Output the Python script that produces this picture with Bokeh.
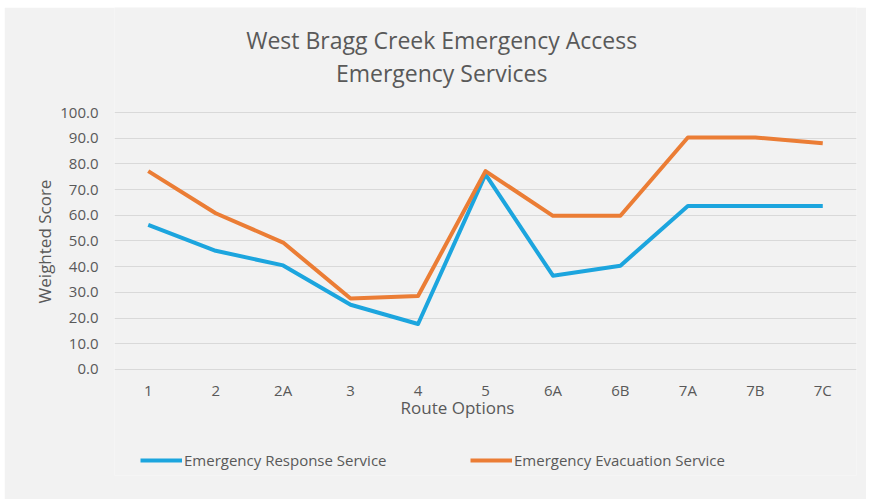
from bokeh.plotting import figure
from bokeh.models import (ColumnDataSource, FactorRange, Range1d, Label, Legend, LegendItem,
                          NumeralTickFormatter, FixedTicker)
from bokeh.embed import file_html
from bokeh.resources import INLINE

routes = ["1", "2", "2A", "3", "4", "5", "6A", "6B", "7A", "7B", "7C"]
response = [56.3, 46.2, 40.5, 25.2, 17.7, 75.9, 36.5, 40.4, 63.6, 63.6, 63.6]
evacuation = [77.2, 60.8, 49.4, 27.6, 28.6, 77.2, 59.8, 59.8, 90.3, 90.3, 88.0]
y_ticks = [0, 10, 20, 30, 40, 50, 60, 70, 80, 90, 100]
title_lines = ["West Bragg Creek Emergency Access", "Emergency Services"]
x_title = "Route Options"
y_title = "Weighted Score"
series_names = ["Emergency Response Service", "Emergency Evacuation Service"]

FONT = "Open Sans"
TXT = "#595959"
BG = "#f2f2f2"
BLUE = "#1CA5DE"
ORANGE = "#EB7D35"

src = ColumnDataSource(dict(route=routes, resp=response, evac=evacuation))

# tall frame (holds titles and legend too); y range chosen so 0..100 sits where the reference has it
p = figure(width=862, height=492, margin=(7, 3, 0, 4),
           x_range=FactorRange(*routes, range_padding=0),
           y_range=Range1d(-41.25, 140.86), output_backend="svg", toolbar_location=None,
           min_border_left=110, min_border_right=10, min_border_top=0, min_border_bottom=24)
p.background_fill_color = BG
p.border_fill_color = BG
p.outline_line_color = None

r1 = p.line("route", "resp", source=src, line_color=BLUE, line_width=4, line_join="round")
r2 = p.line("route", "evac", source=src, line_color=ORANGE, line_width=4, line_join="round")

ticker = FixedTicker(ticks=y_ticks)
p.xgrid.grid_line_color = None
p.ygrid.ticker = ticker
p.ygrid.grid_line_color = "#d9d9d9"
p.ygrid.grid_line_width = 1

p.yaxis.ticker = ticker
p.yaxis.formatter = NumeralTickFormatter(format="0.0")
p.xaxis.fixed_location = 0
for ax in (p.xaxis[0], p.yaxis[0]):
    ax.axis_line_color = None
    ax.major_tick_line_color = None
    ax.minor_tick_line_color = None
    ax.major_tick_out = 0
    ax.major_tick_in = 0
    ax.major_label_text_font = FONT
    ax.major_label_text_font_size = "15px"
    ax.major_label_text_color = TXT
p.yaxis.major_label_standoff = 16
p.xaxis.major_label_standoff = 11
p.yaxis.axis_label = y_title
p.yaxis.axis_label_text_font = FONT
p.yaxis.axis_label_text_font_size = "17px"
p.yaxis.axis_label_text_font_style = "normal"
p.yaxis.axis_label_text_color = TXT
p.yaxis.axis_label_standoff = 1

# titles (inside the tall frame)
p.add_layout(Label(x=4.85, y=128.4, text=title_lines[0], text_font=FONT, text_font_size="23px",
                   text_color=TXT, text_align="center", text_baseline="middle"))
p.add_layout(Label(x=4.85, y=115.4, text=title_lines[1], text_font=FONT, text_font_size="23px",
                   text_color=TXT, text_align="center", text_baseline="middle"))
p.add_layout(Label(x=5.085, y=-14.9, text=x_title, text_font=FONT, text_font_size="17px",
                   text_color=TXT, text_align="center", text_baseline="middle"))

def mk_legend(item, loc):
    lg = Legend(items=[item], location=loc, orientation="horizontal",
                glyph_width=42, glyph_height=20, label_standoff=2, padding=0, margin=0,
                border_line_color=None, background_fill_alpha=0,
                label_text_font=FONT, label_text_font_size="15px", label_text_color=TXT)
    p.add_layout(lg, "center")

mk_legend(LegendItem(label=series_names[0], renderers=[r1]), (26, 5))
mk_legend(LegendItem(label=series_names[1], renderers=[r2]), (356, 5))

open("out.html", "w").write(file_html(p, INLINE))
